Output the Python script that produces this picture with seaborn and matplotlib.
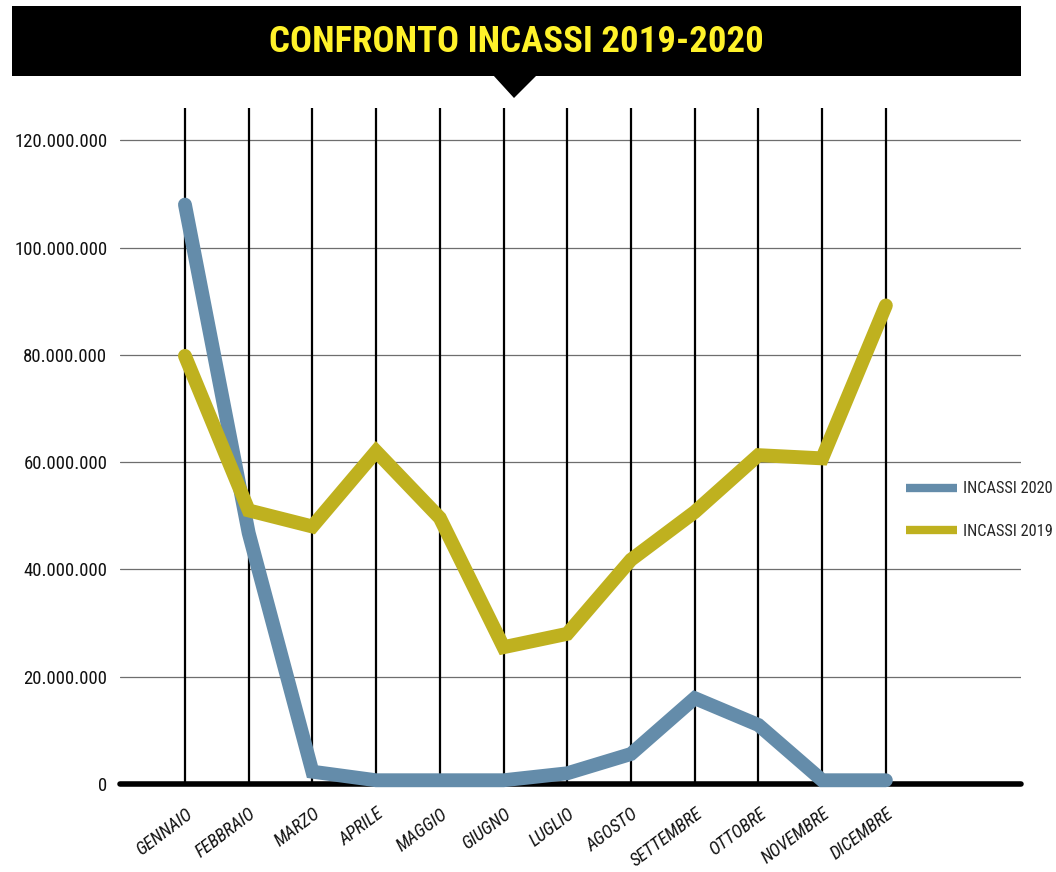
import matplotlib
matplotlib.use("Agg")
import matplotlib.pyplot as plt
from matplotlib import font_manager as fm
from matplotlib.patches import Rectangle, Polygon
from matplotlib.lines import Line2D
from matplotlib.ticker import FuncFormatter, MultipleLocator
import seaborn as sns
import pandas as pd

# Monthly box-office takings
mesi = ["GENNAIO", "FEBBRAIO", "MARZO", "APRILE", "MAGGIO", "GIUGNO",
        "LUGLIO", "AGOSTO", "SETTEMBRE", "OTTOBRE", "NOVEMBRE", "DICEMBRE"]
incassi_2020 = [108.0e6, 46.8e6, 2.3e6, 0.7e6, 0.7e6, 0.7e6,
                2.0e6, 5.6e6, 16.0e6, 11.0e6, 0.7e6, 0.7e6]
incassi_2019 = [79.8e6, 51.0e6, 48.0e6, 62.0e6, 49.6e6, 25.5e6,
                28.0e6, 41.8e6, 50.7e6, 61.3e6, 60.7e6, 89.2e6]
serie = ["INCASSI 2020", "INCASSI 2019"]
colori = {"INCASSI 2020": "#648caa", "INCASSI 2019": "#bfb11f"}

df = pd.DataFrame({
    "idx": list(range(len(mesi))) * 2,
    "mese": mesi * 2,
    "valore": incassi_2020 + incassi_2019,
    "serie": [serie[0]] * len(mesi) + [serie[1]] * len(mesi),
})

sns.set_theme(style="white")

# find a narrow sans face among the installed fonts
NARROW = {"ultra-condensed", "extra-condensed", "condensed", "semi-condensed"}


def narrow_family():
    entries = fm.fontManager.ttflist
    prefs = ["Roboto Condensed", "Open Sans Condensed", "Noto Sans Condensed",
             "Liberation Sans Narrow", "Noto Sans", "Roboto", "Open Sans",
             "DejaVu Sans Condensed", "DejaVu Sans"]
    for fam in prefs:
        for e in entries:
            if e.name == fam and (str(e.stretch) in NARROW
                                  or "Condensed" in fam or "Narrow" in fam):
                return fam
    for e in entries:
        if "Condensed" in e.name or "Narrow" in e.name:
            return e.name
    return "DejaVu Sans"


FAM = narrow_family()
plt.rcParams["font.family"] = [FAM, "DejaVu Sans"]
plt.rcParams["font.stretch"] = "condensed"


def fp(size, weight="normal", style="normal"):
    return fm.FontProperties(family=[FAM, "DejaVu Sans"], stretch="condensed",
                             weight=weight, style=style, size=size)


fig = plt.figure(figsize=(10.56, 8.72), dpi=100)
ax = fig.add_axes([0.1136, 0.1009, 0.8532, 0.7752])

sns.lineplot(data=df, x="idx", y="valore", hue="serie", hue_order=serie,
             palette=colori, linewidth=10, ax=ax, legend=False,
             solid_capstyle="round", solid_joinstyle="miter", zorder=5)
for ln in ax.lines:
    ln.set_clip_on(False)

ax.set_xlim(-1.02, 13.12)

ax.set_xticks(range(len(mesi)))
ax.set_xticklabels(mesi, rotation=37, ha="right", rotation_mode="anchor")
ax.yaxis.set_major_locator(MultipleLocator(20e6))
ax.yaxis.set_major_formatter(FuncFormatter(
    lambda v, p: "0" if v == 0 else f"{int(v):,}".replace(",", ".")))
ax.set_ylim(0, 126e6)
ax.tick_params(axis="both", length=0, colors="#111111")
ax.tick_params(axis="x", pad=15)
ax.tick_params(axis="y", pad=9)
for lab in ax.get_xticklabels():
    lab.set_fontproperties(fp(13, style="italic"))
for lab in ax.get_yticklabels():
    lab.set_fontproperties(fp(13.5))

# grid: black month lines, grey value lines, heavy baseline
ax.grid(False)
for i in range(len(mesi)):
    ax.axvline(i, color="black", linewidth=1.6, zorder=2)
for v in range(20, 121, 20):
    ax.axhline(v * 1e6, color="#6e6e6e", linewidth=0.9, zorder=1)
ax.axhline(0, color="black", linewidth=4, zorder=3, clip_on=False)

for s in ax.spines.values():
    s.set_visible(False)
ax.set_xlabel("")
ax.set_ylabel("")

# legend
handles = [Line2D([0], [0], color=colori[s], linewidth=6, solid_capstyle="butt")
           for s in serie]
fig.legend(handles, serie, loc="center left",
           bbox_to_anchor=(906 / 1056, (872 - 510) / 872),
           frameon=False, prop=fp(11.8), handlelength=3.1, handletextpad=0.4,
           labelspacing=1.65, borderpad=0, borderaxespad=0)

# title banner
fig.patches.append(Rectangle((12 / 1056, (872 - 76) / 872), 1009 / 1056, 70 / 872,
                             transform=fig.transFigure, facecolor="black",
                             edgecolor="none", zorder=0))
fig.patches.append(Polygon([(493 / 1056, (872 - 75) / 872),
                            (537 / 1056, (872 - 75) / 872),
                            (514 / 1056, (872 - 98) / 872)],
                           closed=True, transform=fig.transFigure,
                           facecolor="black", edgecolor="none"))
fig.text(516 / 1056, (872 - 42) / 872, "CONFRONTO INCASSI 2019-2020",
         ha="center", va="center", color="#fff22a",
         fontproperties=fp(26.5, weight="bold"))

fig.savefig("out.png", dpi=100)
